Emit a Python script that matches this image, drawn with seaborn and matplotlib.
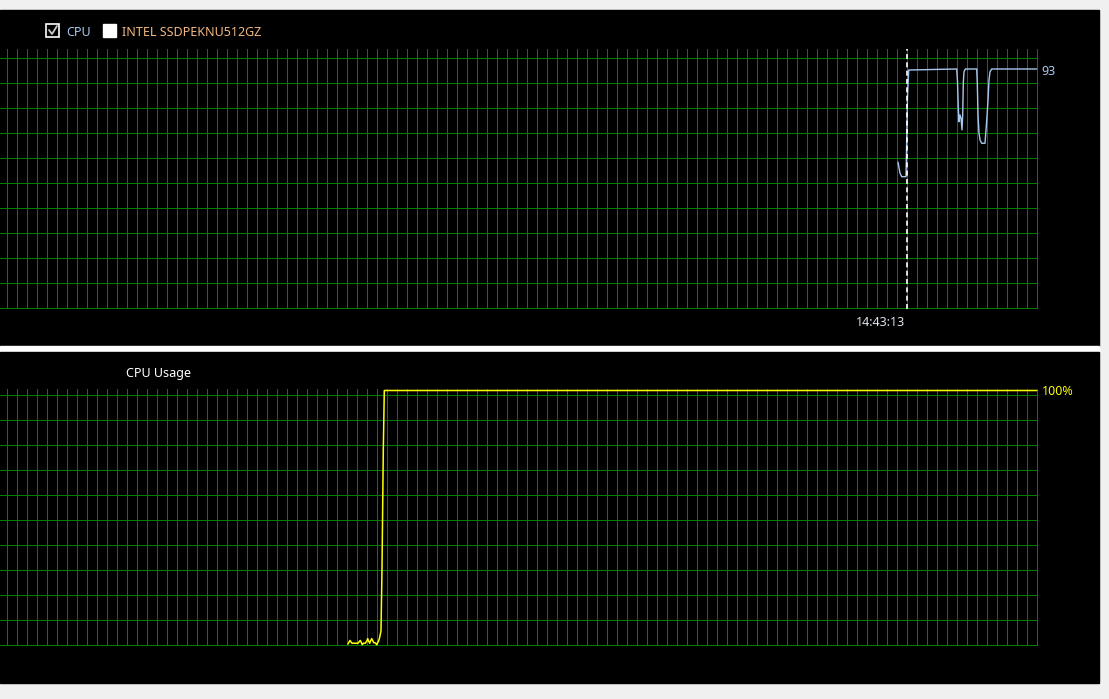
import numpy as np
import pandas as pd
import matplotlib.pyplot as plt
import seaborn as sns
from matplotlib.patches import Rectangle
from matplotlib.lines import Line2D
from matplotlib.ticker import MultipleLocator, FixedLocator

# ----------------------------------------
# Data (x = sample position on the time axis, y = percent)
# ----------------------------------------

# top panel: CPU sensor trace (only the last part of the window has data)
cpu_x = [898, 900, 901.7, 906, 907.5, 908.7, 956.7, 957.5, 958.3, 959, 960, 961, 962, 962.7,
         963.3, 964, 965.3, 976.7, 977.3, 978, 979, 980, 981.7, 985, 986, 987, 988, 989,
         990, 991.7, 1036.7]
cpu_y = [56.7, 52.5, 51.1, 51.1, 82.2, 92.6, 93.0, 88.1, 77.8, 72.5, 75.1, 73.9, 69.3, 75.1,
         87.5, 91.9, 93.0, 93.0, 87.5, 75.1, 68.1, 65.4, 64.1, 64.1, 69.3, 74.5, 80.9, 88.7,
         91.9, 93.0, 93.0]
cpu_last = "93"
cursor_x = 906.5
cursor_label = "14:43:13"

# bottom panel: CPU usage
usage_x = [348, 349, 350, 351, 352, 355, 358, 359.3, 360.3, 361.3, 362.3, 363.3, 365.3, 366.7,
           367.7, 368.7, 369.7, 370.7, 371.7, 373.7, 374.7, 375.7, 376.7, 377.7, 378.7, 379.7,
           381, 382, 383.3, 384.3, 1036.7]
usage_y = [0.4, 1.1, 1.8, 1.2, 0.7, 0.7, 0.7, 1.3, 1.8, 1.0, 0.1, 0.7, 0.7, 1.5, 2.5, 1.5,
           0.7, 1.7, 2.5, 0.9, 0.9, 0.7, 0.1, 0.9, 1.7, 3.0, 5.6, 30.1, 76.6, 100, 100]
usage_label = "100%"

legend_items = ["CPU", "INTEL SSDPEKNU512GZ"]
panel_title = "CPU Usage"

# ----------------------------------------
# Style
# ----------------------------------------

W, H = 1109, 699
GRID = "#008000"
BLUE = "#a6c8ee"
YELLOW = "#ffff00"
ORANGE = "#f2b880"

sns.set_style("dark")
plt.rcParams["font.family"] = ["Noto Sans", "DejaVu Sans"]
plt.rcParams["font.size"] = 9

fig = plt.figure(figsize=(W / 100, H / 100), dpi=100, facecolor="#f0f0f0")


def frac(x, y):
    return x / W, 1 - y / H


def add_rect(x0, y0, x1, y1, **kw):
    fig.patches.append(Rectangle(frac(x0, y1), (x1 - x0) / W, (y1 - y0) / H,
                                 transform=fig.transFigure, **kw))


def add_axes(x0, y0, x1, y1):
    ax = fig.add_axes([x0 / W, 1 - y1 / H, (x1 - x0) / W, (y1 - y0) / H])
    ax.set_facecolor("black")
    for s in ax.spines.values():
        s.set_visible(False)
    ax.tick_params(length=0, labelbottom=False, labelleft=False)
    return ax


# panel backgrounds (behind the axes)
add_rect(0, 10, 1099, 346, color="black", zorder=-10)
add_rect(0, 346, 1099, 352, color="white", zorder=-10)
add_rect(0, 352, 1099, 683, color="black", zorder=-10)

# ----------------------------------------
# Top panel
# ----------------------------------------

ppu_top = 2.57  # pixels per percent
ax1 = add_axes(0, 49, 1038, 309)
ax1.set_xlim(0, 1038)
ax1.set_ylim(-1 / ppu_top, 259 / ppu_top)
ax1.xaxis.set_major_locator(MultipleLocator(10, offset=7))
ax1.yaxis.set_major_locator(FixedLocator(np.arange(11) * 25 / ppu_top))
ax1.grid(True, color=GRID, lw=0.72, antialiased=False)

sns.lineplot(data=pd.DataFrame({"t": cpu_x, "v": cpu_y}), x="t", y="v", ax=ax1,
             color=BLUE, lw=1.0, estimator=None, sort=False)
ax1.axvline(cursor_x, color="white", lw=1.2, ls=(0, (3, 2)))
ax1.set_xlabel("")
ax1.set_ylabel("")
ax1.text(cpu_x[-1] + 5, cpu_y[-1] - 1, cpu_last, color=BLUE, fontsize=9, va="center",
         clip_on=False)
ax1.text(cursor_x - 1, -14 / ppu_top, cursor_label, color="#dde3ee", fontsize=9,
         ha="right", va="center", clip_on=False)

# legend checkboxes
add_rect(46, 24, 59, 37, facecolor="black", edgecolor="white", lw=1.2, zorder=3)
fig.lines.append(Line2D([49 / W, 52 / W, 57 / W], [1 - 30 / H, 1 - 34 / H, 1 - 26 / H],
                        transform=fig.transFigure, color="#c8c8c8", lw=1.3, zorder=4))
fig.text(*frac(66, 32), legend_items[0], color=BLUE, fontsize=9, va="center")
add_rect(103, 24, 116, 37, facecolor="white", edgecolor="white", zorder=3)
fig.text(*frac(122, 32), legend_items[1], color=ORANGE, fontsize=9, va="center")

# ----------------------------------------
# Bottom panel
# ----------------------------------------

ppu_bot = 2.545
ax2 = add_axes(0, 389, 1038, 646)
ax2.set_xlim(0, 1038)
ax2.set_ylim(-1 / ppu_bot, 256 / ppu_bot)
ax2.xaxis.set_major_locator(MultipleLocator(10, offset=7))
ax2.yaxis.set_major_locator(FixedLocator(np.arange(11) * 25 / ppu_bot))
ax2.grid(True, color=GRID, lw=0.72, antialiased=False)

sns.lineplot(data=pd.DataFrame({"t": usage_x, "v": usage_y}), x="t", y="v", ax=ax2,
             color=YELLOW, lw=1.1, estimator=None, sort=False, clip_on=False)
ax2.set_xlabel("")
ax2.set_ylabel("")
ax2.text(usage_x[-1] + 5, usage_y[-1] - 0.5, usage_label, color=YELLOW, fontsize=9,
         va="center", clip_on=False)
fig.text(*frac(126, 373), panel_title, color="white", fontsize=9, va="center")

fig.savefig("out.png", dpi=100, facecolor=fig.get_facecolor())
